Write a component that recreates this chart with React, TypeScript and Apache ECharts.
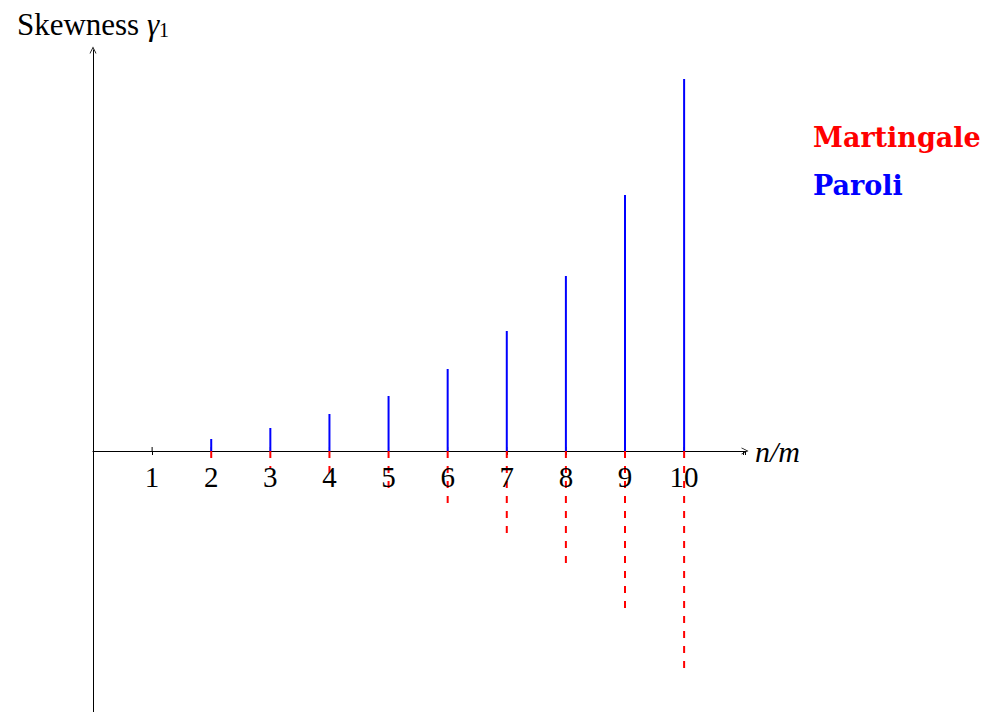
import React, { useEffect, useRef } from "react";
import * as echarts from "echarts";

const categories = [1, 2, 3, 4, 5, 6, 7, 8, 9, 10];
const paroli = [0, 0.12, 0.23, 0.37, 0.55, 0.82, 1.2, 1.75, 2.56, 3.72];
const martingale = [0, -0.07, -0.17, -0.24, -0.39, -0.54, -0.82, -1.14, -1.58, -2.18];
const tickLabels = ["1", "2", "3", "4", "5", "6", "7", "8", "9", "10"];
const legendNames = ["Martingale", "Paroli"];

const serif = "'Liberation Serif', 'DejaVu Serif', serif";
const chevron = "path://M0,10 L5,0 L10,10 L8.8,10 L5,2.4 L1.2,10 Z";

function stem(data: number[], color: string, dash: number[] | null) {
  return {
    type: "custom",
    data: categories.map((c, i) => [c, data[i]]),
    renderItem: (params: any, api: any) => {
      const x = api.value(0);
      const v = api.value(1);
      const p0 = api.coord([x, 0]);
      const p1 = api.coord([x, v]);
      return {
        type: "line",
        shape: { x1: p0[0], y1: p0[1], x2: p1[0], y2: p1[1] },
        style: { stroke: color, lineWidth: 2, lineDash: dash || undefined, fill: null },
      };
    },
    z: 5,
  };
}

const upTicks = {
  type: "custom",
  data: categories.map((c) => [c, 0]),
  renderItem: (params: any, api: any) => {
    const p0 = api.coord([api.value(0), 0]);
    return {
      type: "line",
      shape: { x1: p0[0], y1: p0[1], x2: p0[0], y2: p0[1] - 4 },
      style: { stroke: "#000", lineWidth: 1 },
    };
  },
  z: 3,
};

const labelSeries = {
  type: "custom",
  data: categories.map((c) => [c, 0]),
  renderItem: (params: any, api: any) => {
    const p0 = api.coord([api.value(0), 0]);
    return {
      type: "text",
      x: p0[0],
      y: p0[1] + 26,
      style: {
        text: tickLabels[params.dataIndex],
        fill: "#000",
        font: `29px ${serif}`,
        align: "center",
        verticalAlign: "middle",
      },
    };
  },
  z: 6,
};

export default function App() {
  const ref = useRef<HTMLDivElement>(null);
  useEffect(() => {
    document.body.style.margin = "0";
    const chart = echarts.init(ref.current!, null, { renderer: "svg" });
    chart.setOption({
      animation: false,
      backgroundColor: "#ffffff",
      grid: { left: 93, right: 240, top: 50, bottom: 0, containLabel: false, outerBoundsMode: "none" },
      xAxis: {
        type: "value",
        min: 0,
        max: 11.03,
        interval: 1,
        splitLine: { show: false },
        axisLine: {
          onZero: true,
          symbol: ["none", chevron],
          symbolSize: [9, 7],
          lineStyle: { color: "#000", width: 1 },
        },
        axisTick: { show: true, length: 4, lineStyle: { color: "#000" } },
        axisLabel: { show: false },
        name: "n/m",
        nameLocation: "end",
        nameGap: 10,
        nameTextStyle: { fontFamily: serif, fontStyle: "italic", fontSize: 30, color: "#000", align: "left", verticalAlign: "middle" },
      },
      yAxis: {
        type: "value",
        min: -2.61,
        max: 4.01,
        splitLine: { show: false },
        axisLine: {
          onZero: true,
          symbol: ["none", chevron],
          symbolSize: [9, 7],
          lineStyle: { color: "#000", width: 1 },
        },
        axisTick: { show: false },
        axisLabel: { show: false },
        name: "{a|Skewness }{g|γ}{s|1}",
        nameLocation: "end",
        nameGap: 10,
        nameTextStyle: {
          fontFamily: serif,
          fontSize: 31,
          color: "#000",
          rich: {
            a: { fontFamily: serif, fontSize: 31, color: "#000" },
            g: { fontFamily: serif, fontSize: 31, fontStyle: "italic", color: "#000" },
            s: { fontFamily: serif, fontSize: 20, color: "#000", verticalAlign: "bottom", padding: [12, 0, 0, 0] },
          },
        },
      },
      series: [
        upTicks,
        { ...stem(paroli, "#0000ff", null), name: legendNames[1] },
        { ...stem(martingale, "#ff0000", [7, 8]), name: legendNames[0] },
        labelSeries,
      ],
      graphic: [
        {
          type: "text",
          left: 813,
          top: 124,
          style: { text: legendNames[0], fill: "#ff0000", font: "bold 27px 'DejaVu Serif', serif" },
        },
        {
          type: "text",
          left: 813,
          top: 172,
          style: { text: legendNames[1], fill: "#0000ff", font: "bold 27px 'DejaVu Serif', serif" },
        },
      ],
    });
    return () => chart.dispose();
  }, []);
  return <div ref={ref} style={{ width: 985, height: 712 }} />;
}
